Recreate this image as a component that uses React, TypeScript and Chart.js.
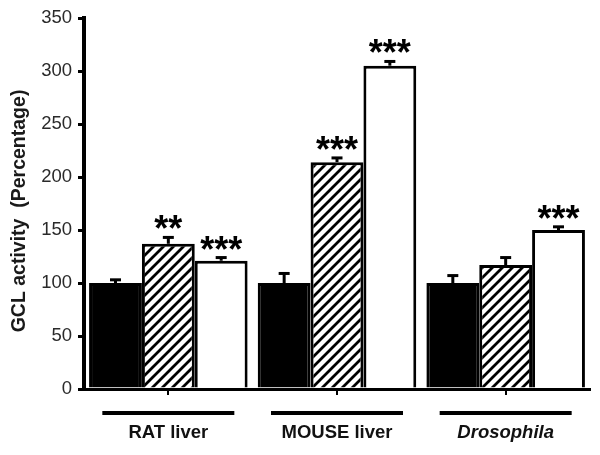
import React, { useEffect, useRef } from "react";
import { Chart, registerables } from "chart.js";
Chart.register(...registerables);

const categories = ["RAT liver", "MOUSE liver", "Drosophila"];
const controlValues = [100, 100, 100];
const controlErrors = [3, 9, 7];
const hatchedValues = [137, 214, 117];
const hatchedErrors = [6, 4, 7];
const whiteValues = [121, 305, 150];
const whiteErrors = [3, 4, 3];
const controlStars = ["", "", ""];
const hatchedStars = ["**", "***", ""];
const whiteStars = ["***", "***", "***"];
const yMin = 0;
const yMax = 350;
const yStep = 50;
const yTitle = "GCL activity  (Percentage)";

const FONT = '"Liberation Sans", Arial, sans-serif';

function makeHatch(): CanvasPattern | string {
  const size = 10;
  const c = document.createElement("canvas");
  c.width = size;
  c.height = size;
  const g = c.getContext("2d");
  if (!g) return "#fff";
  g.fillStyle = "#fff";
  g.fillRect(0, 0, size, size);
  g.strokeStyle = "#000";
  g.lineWidth = 2.8;
  g.beginPath();
  g.moveTo(-1, size + 1);
  g.lineTo(size + 1, -1);
  g.moveTo(-size / 2 - 1, size / 2 + 1);
  g.lineTo(size / 2 + 1, -size / 2 - 1);
  g.moveTo(size / 2 - 1, size * 1.5 + 1);
  g.lineTo(size * 1.5 + 1, size / 2 - 1);
  g.stroke();
  return g.createPattern(c, "repeat") || "#fff";
}

const errorsList = [controlErrors, hatchedErrors, whiteErrors];
const starsList = [controlStars, hatchedStars, whiteStars];

const annotatePlugin = {
  id: "annotate",
  afterDatasetsDraw(chart: any) {
    const ctx = chart.ctx;
    const ys = chart.scales.y;
    ctx.save();
    chart.data.datasets.forEach((ds: any, di: number) => {
      const meta = chart.getDatasetMeta(di);
      meta.data.forEach((el: any, i: number) => {
        const v = ds.data[i] as number;
        const top = ys.getPixelForValue(v + errorsList[di][i]);
        const x = el.x;
        ctx.strokeStyle = "#000";
        ctx.lineWidth = 3;
        ctx.beginPath();
        ctx.moveTo(x, el.y);
        ctx.lineTo(x, top);
        ctx.stroke();
        ctx.beginPath();
        ctx.moveTo(x - 5.5, top);
        ctx.lineTo(x + 5.5, top);
        ctx.stroke();
        const s = starsList[di][i];
        if (s) {
          const fs = 36;
          ctx.font = `bold ${fs}px ${FONT}`;
          ctx.fillStyle = "#000";
          ctx.textAlign = "center";
          ctx.textBaseline = "alphabetic";
          const m = ctx.measureText(s);
          const desc = m.actualBoundingBoxDescent || -0.44 * fs;
          ctx.fillText(s, x, top - 8 - desc);
        }
      });
    });
    ctx.restore();
  },
  afterDraw(chart: any) {
    const ctx = chart.ctx;
    const xs = chart.scales.x;
    const area = chart.chartArea;
    ctx.save();
    ctx.strokeStyle = "#000";
    ctx.lineWidth = 4;
    categories.forEach((_, i) => {
      const cx = xs.getPixelForValue(i);
      ctx.beginPath();
      ctx.moveTo(cx - 66, area.bottom + 24);
      ctx.lineTo(cx + 66, area.bottom + 24);
      ctx.stroke();
    });
    // y-axis title
    ctx.translate(20, 211);
    ctx.rotate(-Math.PI / 2);
    ctx.font = `bold 19.5px ${FONT}`;
    ctx.fillStyle = "#1a1a1a";
    ctx.textAlign = "center";
    ctx.textBaseline = "middle";
    ctx.fillText(yTitle, 0, 0);
    ctx.restore();
  },
};

export default function App() {
  const ref = useRef<HTMLCanvasElement>(null);
  useEffect(() => {
    if (!ref.current) return;
    const hatch = makeHatch();
    const chart = new Chart(ref.current, {
      type: "bar",
      data: {
        labels: categories,
        datasets: [
          {
            label: "control",
            data: controlValues,
            backgroundColor: "#000",
            borderColor: "#000",
            borderWidth: 3,
          },
          {
            label: "treated A",
            data: hatchedValues,
            backgroundColor: hatch as any,
            borderColor: "#000",
            borderWidth: 3,
          },
          {
            label: "treated B",
            data: whiteValues,
            backgroundColor: "#fff",
            borderColor: "#000",
            borderWidth: 3,
          },
        ],
      },
      options: {
        animation: false,
        responsive: true,
        maintainAspectRatio: false,
        layout: { padding: { left: 0, right: 10, top: 18, bottom: 0 } },
        datasets: {
          bar: { barPercentage: 1, categoryPercentage: 0.94 },
        },
        plugins: {
          legend: { display: false },
          tooltip: { enabled: false },
        },
        scales: {
          x: {
            offset: true,
            grid: {
              display: true,
              drawOnChartArea: false,
              offset: false,
              tickLength: 6,
              lineWidth: 2,
              color: "#000",
            },
            border: { display: true, width: 3, color: "#000" },
            ticks: {
              padding: 27,
              color: "#111",
              font: (c: any) => ({
                family: FONT,
                size: 18.5,
                weight: "bold",
                style: c.index === 2 ? "italic" : "normal",
              }),
            },
            afterFit: (s: any) => {
              s.height = 66;
            },
          },
          y: {
            min: yMin,
            max: yMax,
            ticks: {
              stepSize: yStep,
              padding: 6,
              color: "#2a2a2a",
              font: { family: FONT, size: 18.5 },
            },
            grid: {
              display: true,
              drawOnChartArea: false,
              tickLength: 6,
              lineWidth: 3,
              color: "#000",
            },
            border: { display: true, width: 4, color: "#000" },
            afterFit: (s: any) => {
              s.width = 84;
            },
          },
        },
      },
      plugins: [annotatePlugin],
    });
    return () => chart.destroy();
  }, []);
  return (
    <div
      style={{
        position: "fixed",
        left: 0,
        top: 0,
        width: 600,
        height: 455,
        background: "#fff",
      }}
    >
      <canvas ref={ref} />
    </div>
  );
}
